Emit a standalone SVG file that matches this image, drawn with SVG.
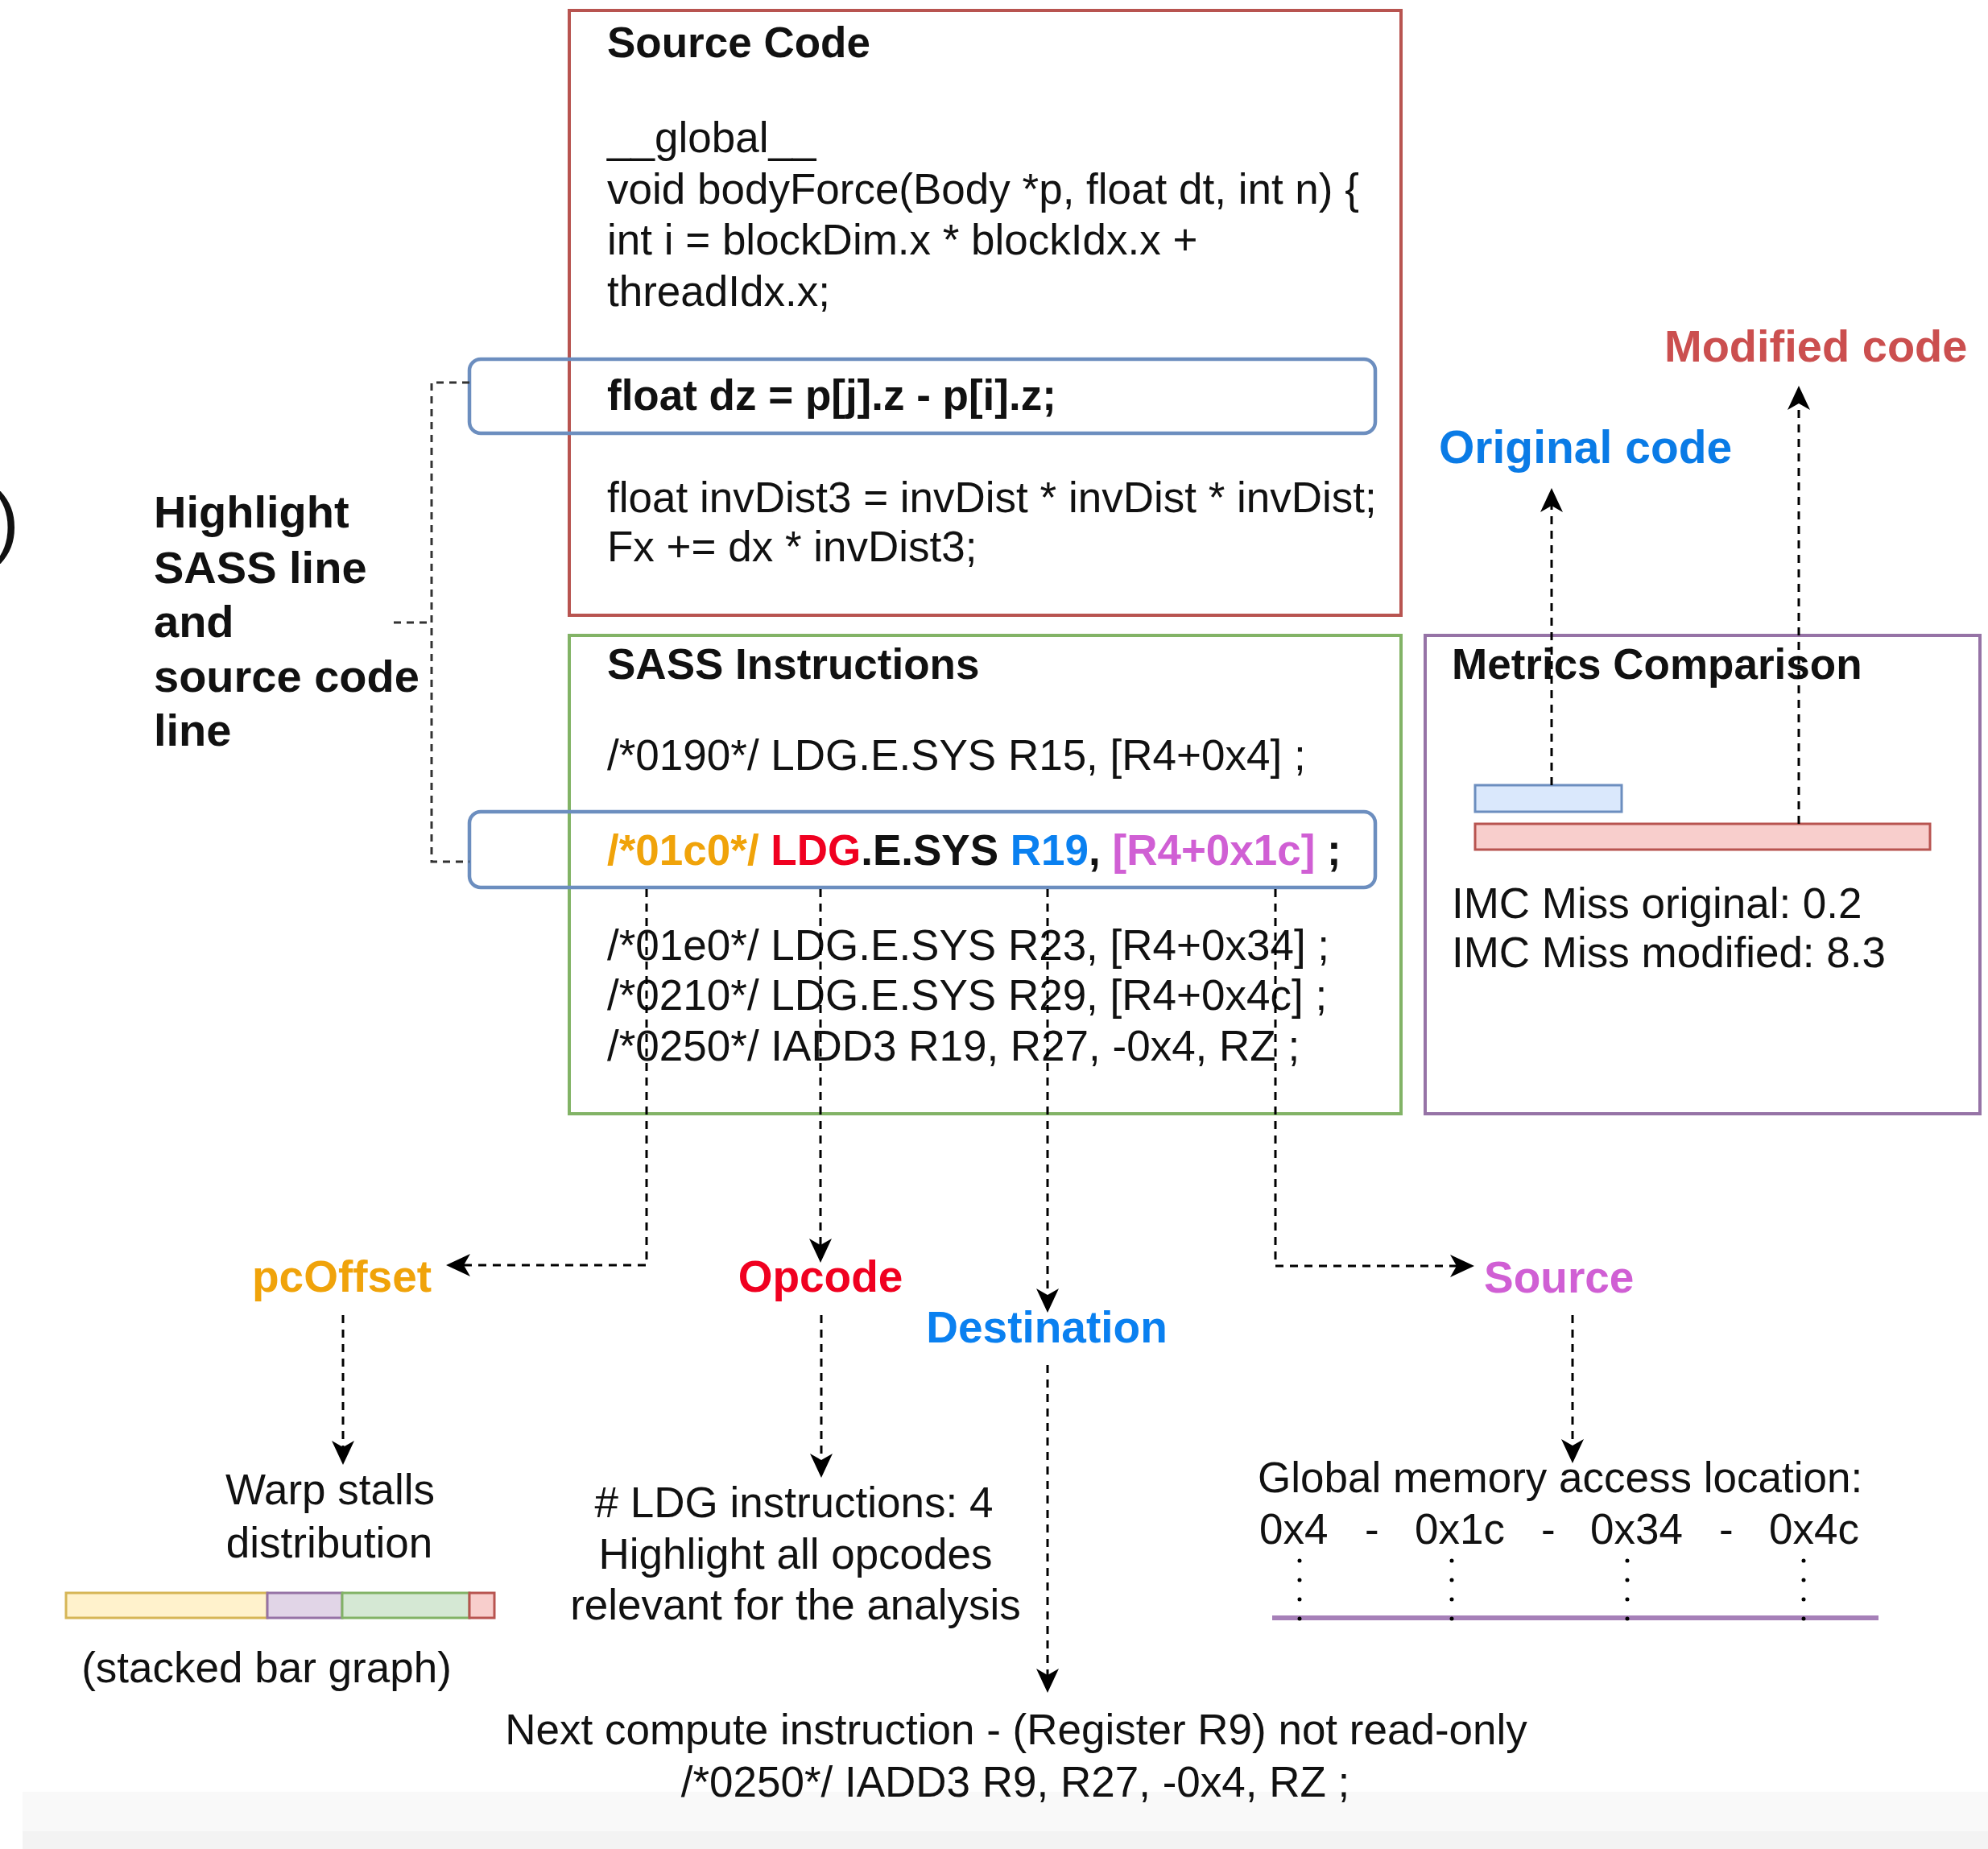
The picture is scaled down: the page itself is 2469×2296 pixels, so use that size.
<svg xmlns="http://www.w3.org/2000/svg" width="2469" height="2296" viewBox="0 0 2469 2296">
  <style>
    text { font-family: "Liberation Sans", Arial, Helvetica, sans-serif; fill: #111; }
    .t { font-size: 53px; }
    .b { font-size: 53px; font-weight: bold; }
    .lbl { font-size: 55px; font-weight: bold; }
    .side { font-size: 56px; font-weight: bold; }
    .mid { text-anchor: middle; }
    .box { fill: none; stroke-width: 4; }
    .hl { fill: none; stroke: #6C8EBF; stroke-width: 4.5; }
    .dash { fill: none; stroke: #000; stroke-width: 3; stroke-dasharray: 10 8; }
    .brk { fill: none; stroke: #333; stroke-width: 3; stroke-dasharray: 9 7; }
    .dots { fill: none; stroke: #000; stroke-width: 5; stroke-linecap: round; stroke-dasharray: 0 24; }
  </style>
  <defs>
    <marker id="arr" markerUnits="userSpaceOnUse" markerWidth="30" markerHeight="28" viewBox="0 0 30 28" refX="20" refY="14" orient="auto">
      <path d="M0,0 L30,14 L0,28 L8,14 Z" fill="#000"/>
    </marker>
  </defs>

  <rect width="2469" height="2296" fill="#fff"/>
  <!-- page footer band -->
  <rect x="28" y="2225" width="2441" height="49" fill="#F9F9F9"/>
  <rect x="28" y="2274" width="2441" height="22" fill="#F3F3F3"/>

  <!-- figure label fragment at the left edge -->
  <text x="-8" y="680" style="font-size:96px">)</text>

  <!-- Source code panel -->
  <g id="source-code">
    <rect class="box" x="707" y="13" width="1033" height="751" stroke="#B85450"/>
    <text class="b" x="754" y="71">Source Code</text>
    <text class="t" x="754" y="189">__global__</text>
    <text class="t" x="754" y="253">void bodyForce(Body *p, float dt, int n) {</text>
    <text class="t" x="754" y="316">int i = blockDim.x * blockIdx.x +</text>
    <text class="t" x="754" y="380">threadIdx.x;</text>
    <text class="b" x="754" y="509">float dz = p[j].z - p[i].z;</text>
    <text class="t" x="754" y="636">float invDist3 = invDist * invDist * invDist;</text>
    <text class="t" x="754" y="697">Fx += dx * invDist3;</text>
  </g>
  <g id="source-highlight">
    <rect class="hl" x="583" y="446" width="1125" height="92" rx="14"/>
  </g>

  <!-- SASS panel -->
  <g id="sass">
    <rect class="box" x="707" y="789" width="1033" height="594" stroke="#82B366"/>
    <text class="b" x="754" y="843">SASS Instructions</text>
    <text class="t" x="754" y="956">/*0190*/ LDG.E.SYS R15, [R4+0x4] ;</text>
    <text class="b" x="754" y="1074"><tspan fill="#F0A30A">/*01c0*/ </tspan><tspan fill="#F00020">LDG</tspan>.E.SYS <tspan fill="#0A80F0">R19</tspan>, <tspan fill="#D05FD4">[R4+0x1c]</tspan> ;</text>
    <text class="t" x="754" y="1192">/*01e0*/ LDG.E.SYS R23, [R4+0x34] ;</text>
    <text class="t" x="754" y="1254">/*0210*/ LDG.E.SYS R29, [R4+0x4c] ;</text>
    <text class="t" x="754" y="1317">/*0250*/ IADD3 R19, R27, -0x4, RZ ;</text>
  </g>
  <g id="sass-highlight">
    <rect class="hl" x="583" y="1008" width="1125" height="94" rx="14"/>
  </g>

  <!-- Metrics panel -->
  <g id="metrics">
    <rect class="box" x="1770" y="789" width="689" height="594" stroke="#9673A6"/>
    <text class="b" x="1803" y="843">Metrics Comparison</text>
    <rect x="1832" y="975" width="182" height="33" fill="#DAE8FC" stroke="#6C8EBF" stroke-width="3"/>
    <rect x="1832" y="1023" width="565" height="32" fill="#F8CECC" stroke="#B85450" stroke-width="3"/>
    <text class="t" x="1803" y="1140">IMC Miss original: 0.2</text>
    <text class="t" x="1803" y="1201">IMC Miss modified: 8.3</text>
  </g>
  <g id="original-code">
    <text x="1787" y="575" style="font-size:57px;font-weight:bold;fill:#0A7BE6">Original code</text>
  </g>
  <g id="modified-code">
    <text x="2067" y="449" style="font-size:56px;font-weight:bold;fill:#CB4F4F">Modified code</text>
  </g>

  <!-- Side note -->
  <g id="highlight-note">
    <text class="side" x="191" y="655">Highlight</text>
    <text class="side" x="191" y="724">SASS line</text>
    <text class="side" x="191" y="791">and</text>
    <text class="side" x="191" y="859">source code</text>
    <text class="side" x="191" y="926">line</text>
  </g>

  <!-- Field labels -->
  <g id="pcoffset"><text class="lbl" x="313" y="1604" style="fill:#F0A30A">pcOffset</text></g>
  <g id="opcode"><text class="lbl mid" x="1019" y="1604" style="fill:#F00020">Opcode</text></g>
  <g id="destination"><text class="lbl mid" x="1300" y="1667" style="fill:#0A80F0">Destination</text></g>
  <g id="source"><text class="lbl" x="1843" y="1605" style="fill:#D05FD4">Source</text></g>

  <!-- Warp stalls -->
  <g id="warp-stalls">
    <text class="t mid" x="410" y="1868">Warp stalls</text>
    <text class="t mid" x="409" y="1934">distribution</text>
    <rect x="82" y="1978" width="250" height="31" fill="#FFF2CC" stroke="#D6B656" stroke-width="3"/>
    <rect x="332" y="1978" width="93" height="31" fill="#E1D5E7" stroke="#9673A6" stroke-width="3"/>
    <rect x="425" y="1978" width="158" height="31" fill="#D5E8D4" stroke="#82B366" stroke-width="3"/>
    <rect x="583" y="1978" width="31" height="31" fill="#F8CECC" stroke="#B85450" stroke-width="3"/>
    <text class="t mid" x="331" y="2089">(stacked bar graph)</text>
  </g>

  <!-- Opcode result -->
  <g id="ldg-count">
    <text class="t mid" x="986" y="1884"># LDG instructions: 4</text>
    <text class="t mid" x="988" y="1948">Highlight all opcodes</text>
    <text class="t mid" x="988" y="2011">relevant for the analysis</text>
  </g>

  <!-- Destination result -->
  <g id="next-compute">
    <text class="t mid" x="1262" y="2166">Next compute instruction - (Register R9) not read-only</text>
    <text class="t mid" x="1261" y="2231">/*0250*/ IADD3 R9, R27, -0x4, RZ ;</text>
  </g>

  <!-- Source result -->
  <g id="memory-access">
    <text class="t" x="1562" y="1853">Global memory access location:</text>
    <text class="t" y="1917"><tspan x="1564">0x4</tspan><tspan x="1695">-</tspan><tspan x="1757">0x1c</tspan><tspan x="1914">-</tspan><tspan x="1975">0x34</tspan><tspan x="2135">-</tspan><tspan x="2197">0x4c</tspan></text>
    <line x1="1580" y1="2009" x2="2333" y2="2009" stroke="#A680B8" stroke-width="6"/>
    <path class="dots" d="M1614,1938 V2011 M1803,1938 V2011 M2021,1938 V2011 M2240,1938 V2011"/>
  </g>

  <!-- Connectors -->
  <g id="connectors">
    <path class="brk" d="M583,475 H536 V1070 H583 M489,773 H536"/>
    <path class="dash" d="M803,1104 V1571 H564" marker-end="url(#arr)"/>
    <path class="dash" d="M1019,1104 V1558" marker-end="url(#arr)"/>
    <path class="dash" d="M1301,1104 V1620" marker-end="url(#arr)"/>
    <path class="dash" d="M1584,1104 V1572 H1821" marker-end="url(#arr)"/>
    <path class="dash" d="M426,1633 V1809" marker-end="url(#arr)"/>
    <path class="dash" d="M1020,1633 V1825" marker-end="url(#arr)"/>
    <path class="dash" d="M1301,1695 V2092" marker-end="url(#arr)"/>
    <path class="dash" d="M1953,1633 V1807" marker-end="url(#arr)"/>
    <path class="dash" d="M1927,975 V616" marker-end="url(#arr)"/>
    <path class="dash" d="M2234,1023 V489" marker-end="url(#arr)"/>
  </g>
</svg>
